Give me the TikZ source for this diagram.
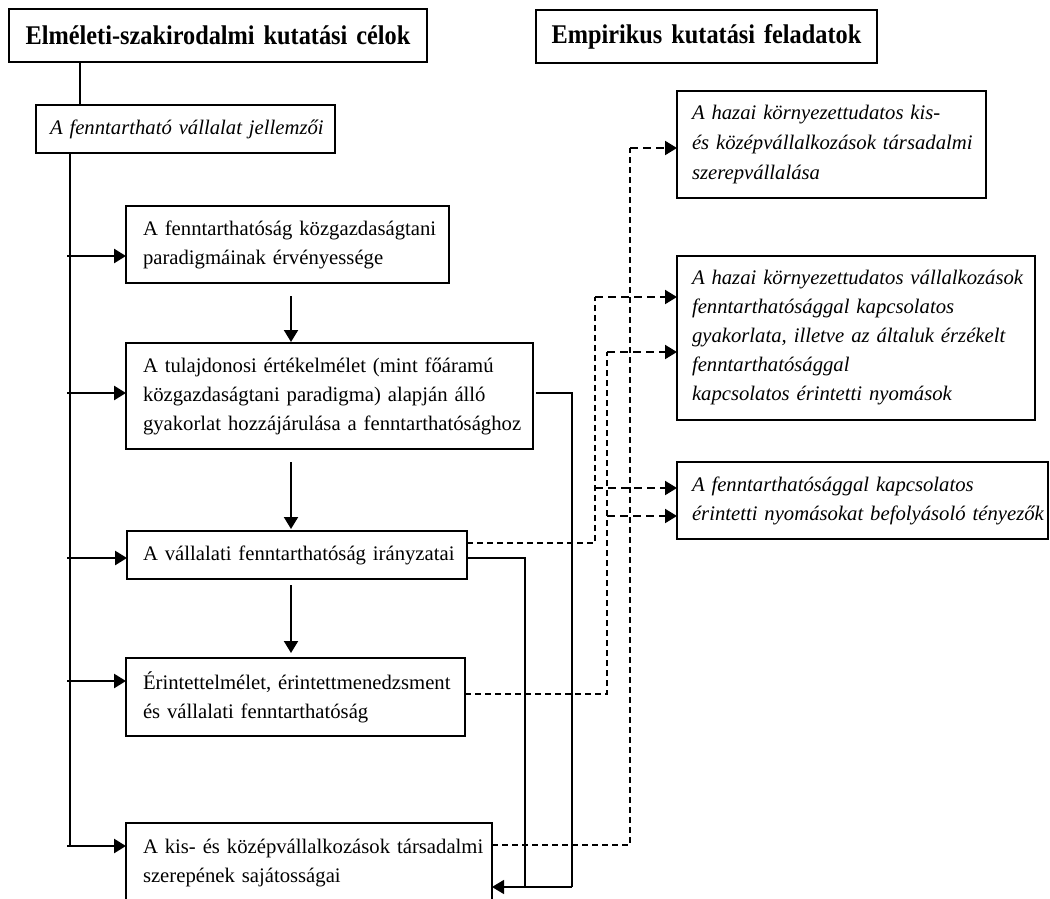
\documentclass[tikz,border=0pt]{standalone}
\usepackage{fontspec}
\setmainfont{Liberation Serif}
\newfontfamily\titlefont[FakeStretch=0.9]{Liberation Serif}
\usetikzlibrary{arrows.meta}
\begin{document}
\begin{tikzpicture}[x=1pt,y=-1pt,
  box/.style={draw, line width=1.3pt, anchor=north west, inner ysep=0pt, outer sep=0pt,
    align=left, font=\fontsize{20.7}{29}\selectfont},
  titlebox/.style={box, align=center, font=\titlefont\fontsize{27}{30}\selectfont\bfseries},
  ln/.style={line width=1.3pt},
  harr/.style={line width=2.6pt, -{Triangle[length=12pt,width=14pt]}},
  varr/.style={line width=2pt, -{Triangle[length=12pt,width=14pt]}},
  rarr/.style={line width=1.3pt, -{Triangle[length=12pt,width=14pt]}},
  dl/.style={line width=1.3pt, dash pattern=on 6pt off 4pt},
  dla/.style={line width=2pt, dash pattern=on 8pt off 5pt, -{Triangle[length=12pt,width=14pt]}}]
\useasboundingbox (0,0) rectangle (1050,899);
% titles
\node[titlebox, inner xsep=8pt, text width=402pt, minimum height=53pt] (T1) at (9,9) {\mbox{Elméleti-szakirodalmi kutatási célok}};
\node[titlebox, inner xsep=8pt, text width=325pt, minimum height=53pt] (T2) at (536,10) {\mbox{Empirikus kutatási feladatok}};
% left column
\node[box, inner xsep=14pt, text width=271pt, minimum height=48pt, font=\fontsize{20.7}{29}\selectfont\itshape] (J) at (36,105) {\mbox{A fenntartható vállalat jellemzői}};
\node[box, inner xsep=17pt, text width=289pt, minimum height=77pt] (F1) at (126,206) {\mbox{A fenntarthatóság közgazdaságtani}\\\mbox{paradigmáinak érvényessége}};
\node[box, inner xsep=17pt, text width=373pt, minimum height=106pt] (F2) at (126,343) {\mbox{A tulajdonosi értékelmélet (mint főáramú}\\\mbox{közgazdaságtani paradigma) alapján álló}\\\mbox{gyakorlat hozzájárulása a fenntarthatósághoz}};
\node[box, inner xsep=16pt, text width=308pt, minimum height=48pt] (F3) at (127,531) {\mbox{A vállalati fenntarthatóság irányzatai}};
\node[box, inner xsep=17pt, text width=305pt, minimum height=78pt] (F4) at (126,658) {\mbox{Érintettelmélet, érintettmenedzsment}\\\mbox{és vállalati fenntarthatóság}};
\node[box, inner xsep=17pt, text width=332pt, minimum height=80pt] (F5) at (126,823) {\mbox{A kis- és középvállalkozások társadalmi}\\\mbox{szerepének sajátosságai}};
% right column
\node[box, inner xsep=15pt, text width=279pt, minimum height=107pt, font=\fontsize{20.7}{30}\selectfont\itshape] (R1) at (677,91) {\mbox{A hazai környezettudatos kis-}\\\mbox{és középvállalkozások társadalmi}\\\mbox{szerepvállalása}};
\node[box, inner xsep=15pt, text width=328pt, minimum height=164pt, font=\fontsize{20.7}{29}\selectfont\itshape] (R2) at (677,256) {\mbox{A hazai környezettudatos vállalkozások}\\\mbox{fenntarthatósággal kapcsolatos}\\\mbox{gyakorlata, illetve az általuk érzékelt}\\\mbox{fenntarthatósággal}\\\mbox{kapcsolatos érintetti nyomások}};
\node[box, inner xsep=15pt, text width=341pt, minimum height=77pt, font=\fontsize{20.7}{29}\selectfont\itshape] (R3) at (677,462) {\mbox{A fenntarthatósággal kapcsolatos}\\\mbox{érintetti nyomásokat befolyásoló tényezők}};
% helper coordinates
\coordinate (xt) at (80,0);
\coordinate (xs) at (70,0);
\coordinate (xv) at (291,0);
\coordinate (xs1) at (572,0);
\coordinate (xs2) at (525,0);
\coordinate (xd1) at (595,0);
\coordinate (xd2) at (607,0);
\coordinate (xd3) at (630,0);
\coordinate (ya1) at (0,256);
\coordinate (ya2) at (0,393);
\coordinate (ya3) at (0,558);
\coordinate (ya4) at (0,681);
\coordinate (ya5) at (0,846);
\coordinate (ybot) at (0,887);
\coordinate (yd3) at (0,543);
\coordinate (yd4) at (0,694);
\coordinate (yd5) at (0,845);
\coordinate (yr1) at (0,148);
\coordinate (yr2a) at (0,297);
\coordinate (yr2b) at (0,352);
\coordinate (yr3a) at (0,488);
\coordinate (yr3b) at (0,516);
% left connectors
\draw[ln] (T1.south -| xt) -- (J.north -| xt);
\draw[ln] (J.south -| xs) -- (xs |- ya5);
\draw[harr] ([xshift=-3pt]xs |- ya1) -- (F1.west |- ya1);
\draw[harr] ([xshift=-3pt]xs |- ya2) -- (F2.west |- ya2);
\draw[harr] ([xshift=-3pt]xs |- ya3) -- (F3.west |- ya3);
\draw[harr] ([xshift=-3pt]xs |- ya4) -- (F4.west |- ya4);
\draw[harr] ([xshift=-3pt]xs |- ya5) -- (F5.west |- ya5);
% vertical arrows
\draw[varr, shorten <=13pt, shorten >=1pt] (F1.south -| xv) -- (F2.north -| xv);
\draw[varr, shorten <=13pt, shorten >=2pt] (F2.south -| xv) -- (F3.north -| xv);
\draw[varr, shorten <=6pt, shorten >=5pt] (F3.south -| xv) -- (F4.north -| xv);
% solid return lines
\draw[ln] ([xshift=3pt]F2.east |- ya2) -| (xs1 |- ybot);
\draw[ln] (F3.east |- ya3) -| (xs2 |- ybot);
\draw[rarr] (xs1 |- ybot) -- (F5.east |- ybot);
% dashed connectors
\draw[dl] (F3.east |- yd3) -| (xd1 |- yr2a);
\draw[dla] (xd1 |- yr2a) -- (R2.west |- yr2a);
\draw[dla] (xd1 |- yr3a) -- (R3.west |- yr3a);
\draw[dl] (F4.east |- yd4) -| (xd2 |- yr2b);
\draw[dla] (xd2 |- yr2b) -- (R2.west |- yr2b);
\draw[dla] (xd2 |- yr3b) -- (R3.west |- yr3b);
\draw[dl] (F5.east |- yd5) -| (xd3 |- yr1);
\draw[dla] (xd3 |- yr1) -- (R1.west |- yr1);
\end{tikzpicture}
\end{document}
